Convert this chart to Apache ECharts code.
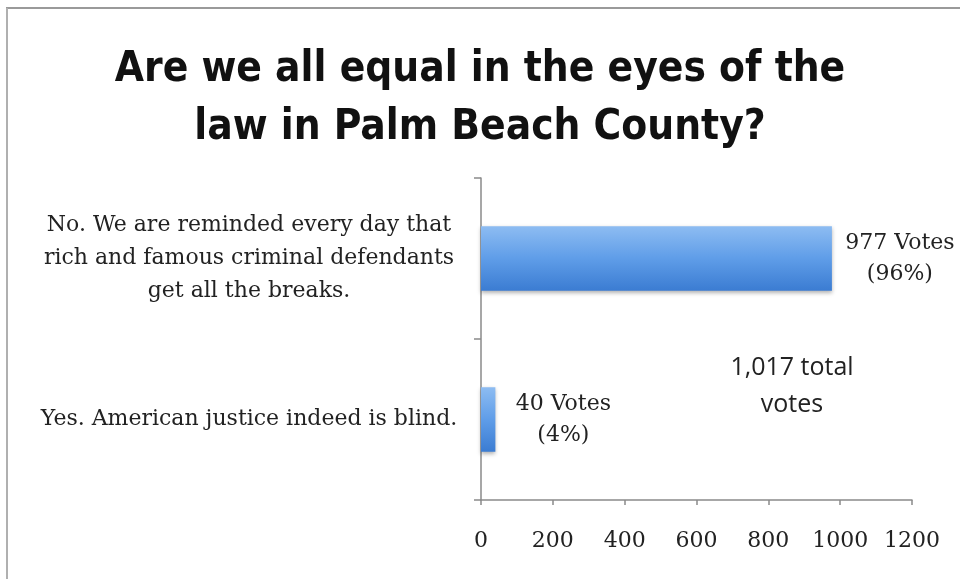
<!DOCTYPE html>
<html>
<head>
<meta charset="utf-8">
<title>Palm Beach County poll</title>
<script src="https://cdn.jsdelivr.net/npm/echarts@6/dist/echarts.min.js"></script>
<style>
    html, body { margin: 0; padding: 0; background: #fff; }
    #chart { width: 960px; height: 579px; }
</style>
</head>
<body>
<div id="chart"></div>
<script>
    // answers, top to bottom
    var categories = [
        'No. We are reminded every day that\nrich and famous criminal defendants\nget all the breaks.',
        'Yes. American justice indeed is blind.'
    ];
    var votes = [977, 40];
    var percents = [96, 4];
    var totalVotes = '1,017';

    var serif = "'DejaVu Serif', 'Liberation Serif', serif";

    var chart = echarts.init(document.getElementById('chart'));

    var barColor = new echarts.graphic.LinearGradient(0, 0, 0, 1, [
        {offset: 0, color: '#8dbcf2'},
        {offset: 0.5, color: '#5f9de8'},
        {offset: 1, color: '#3b7cd2'}
    ]);

    var option = {
        backgroundColor: '#fff',
        animation: false,
        title: {
            text: 'Are we all equal in the eyes of the\nlaw in Palm Beach County?',
            left: 'center',
            top: 36,
            // a bit of extra left padding pushes the centred title right, like the original
            padding: [5, 5, 5, 21],
            textStyle: {
                fontFamily: "'Liberation Sans Narrow', 'DejaVu Sans Condensed', sans-serif",
                fontWeight: 'bold',
                fontSize: 42,
                lineHeight: 58,
                color: '#111'
            }
        },
        grid: {
            left: 481,
            right: 48,
            top: 178,
            bottom: 79
        },
        xAxis: {
            type: 'value',
            min: 0,
            max: 1200,
            interval: 200,
            splitLine: {show: false},
            axisLine: {show: true, lineStyle: {color: '#8a8a8a', width: 1.5}},
            axisTick: {show: true, length: 5, lineStyle: {color: '#8a8a8a', width: 1.5}},
            axisLabel: {
                margin: 30,
                formatter: function (v) { return String(v); },
                fontFamily: serif,
                fontSize: 22,
                color: '#222'
            }
        },
        yAxis: {
            type: 'category',
            inverse: true,
            data: categories,
            axisLine: {show: true, lineStyle: {color: '#8a8a8a', width: 1.5}},
            axisTick: {show: true, length: 7, lineStyle: {color: '#8a8a8a', width: 1.5}},
            axisLabel: {
                margin: 24,
                formatter: function (v) {
                    return v.split('\n').map(function (s) { return '{c|' + s + '}'; }).join('\n');
                },
                rich: {
                    c: {
                        width: 416,
                        align: 'center',
                        fontFamily: serif,
                        fontSize: 22,
                        lineHeight: 33,
                        color: '#222'
                    }
                }
            }
        },
        series: [{
            type: 'bar',
            data: votes,
            barWidth: '40%',
            itemStyle: {
                color: barColor,
                shadowBlur: 4,
                shadowOffsetY: 2,
                shadowColor: 'rgba(0,0,0,0.3)'
            },
            label: {
                show: true,
                position: 'right',
                distance: 14,
                formatter: function (p) {
                    return '{v|' + p.value + ' Votes}\n{v|(' + percents[p.dataIndex] + '%)}';
                },
                rich: {
                    v: {
                        width: 108,
                        align: 'center',
                        fontFamily: serif,
                        fontSize: 22,
                        lineHeight: 31,
                        color: '#222'
                    }
                }
            }
        }],
        graphic: [
            {
                type: 'line',
                shape: {x1: 6, y1: 8, x2: 960, y2: 8},
                style: {stroke: '#9a9a9a', lineWidth: 2}
            },
            {
                type: 'line',
                shape: {x1: 7, y1: 8, x2: 7, y2: 579},
                style: {stroke: '#b0b0b0', lineWidth: 2}
            },
            {
                type: 'text',
                x: 792,
                y: 386,
                style: {
                    text: totalVotes + ' total\nvotes',
                    fontFamily: "'Open Sans', 'Liberation Sans', sans-serif",
                    fontSize: 25,
                    lineHeight: 37,
                    fill: '#222',
                    align: 'center',
                    verticalAlign: 'middle'
                }
            }
        ]
    };

    chart.setOption(option);
</script>
</body>
</html>
